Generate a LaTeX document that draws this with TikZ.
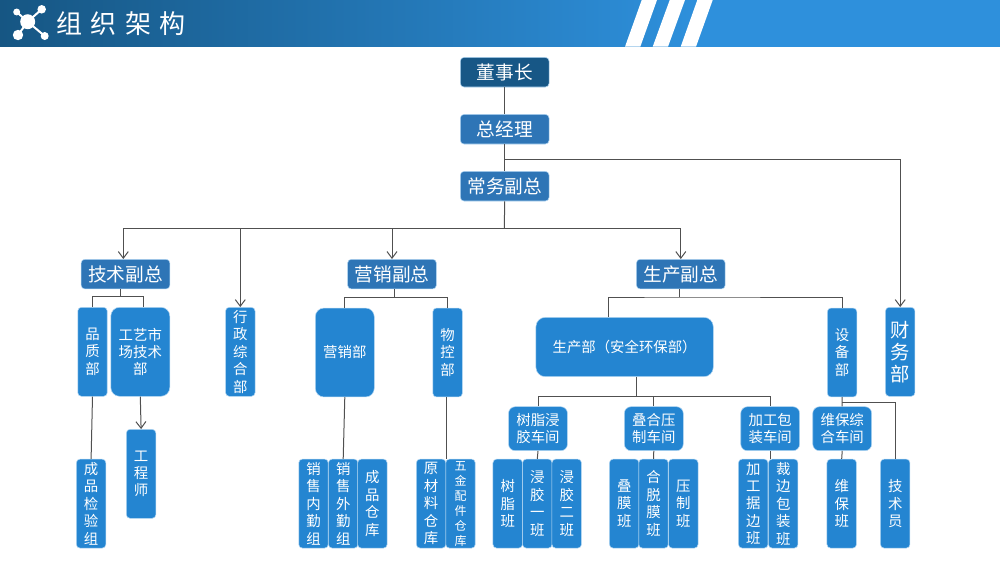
\documentclass[tikz,border=0pt]{standalone}
\usepackage{fontspec}
\usepackage{xcolor}
\setmainfont{Noto Sans CJK SC}
\usetikzlibrary{arrows.meta}
\definecolor{headdark}{RGB}{22,86,131}
\definecolor{headblue}{RGB}{46,144,220}
\definecolor{chairblue}{RGB}{23,87,134}
\definecolor{vpblue}{RGB}{46,117,182}
\definecolor{deptblue}{RGB}{36,133,209}
\definecolor{edgeblue}{RGB}{178,214,242}
\definecolor{linegray}{RGB}{80,80,80}
\tikzset{
    box/.style={rectangle, draw=edgeblue, line width=0.4pt, fill=deptblue, text=white, inner sep=0pt, align=center},
    vpbox/.style={box, fill=vpblue, minimum width=66.5pt, minimum height=22.2pt, rounded corners=2.7pt, font=\fontsize{14}{17}\selectfont},
    vbox/.style={box, minimum width=22.1pt, minimum height=66.7pt, rounded corners=2.7pt, font=\fontsize{10.8}{13.1}\selectfont},
    widebox/.style={box, minimum width=44.2pt, minimum height=66.7pt, rounded corners=6.5pt, font=\fontsize{10.8}{12.6}\selectfont},
    shopbox/.style={box, minimum width=44.2pt, minimum height=33pt, rounded corners=5pt, font=\fontsize{10.8}{12.6}\selectfont},
    conn/.style={linegray, line width=0.75pt},
    arrow/.style={conn, -{Straight Barb[length=5pt,width=7.5pt]}}
}

\begin{document}
\begin{tikzpicture}[x=0.75pt, y=-0.75pt]
\useasboundingbox (0,0) rectangle (1000,562);

% Header band
\shade[left color=headdark, right color=headblue, shading angle=90] (0,0) rectangle (700,46.7);
\fill[headblue] (699,0) rectangle (1000,46.7);
\fill[white] (641.7,0) -- (657,0) -- (640.3,46.7) -- (625,46.7) -- cycle;
\fill[white] (669.7,0) -- (685,0) -- (668,46.7) -- (652.7,46.7) -- cycle;
\fill[white] (697.3,0) -- (712.7,0) -- (696,46.7) -- (680.7,46.7) -- cycle;

% Header logo
\draw[white, line width=1.5pt] (16.7,12) -- (27.7,21.7) -- (41.7,9.3);
\draw[white, line width=1.5pt] (18,35) -- (27.7,21.7) -- (44.7,36);
\fill[white] (27.7,21.7) circle (5.6pt);
\fill[white] (16.7,12) circle (2.6pt);
\fill[white] (41.7,9.3) circle (3.2pt);
\fill[white] (18,35) circle (3.9pt);
\fill[white] (44.7,36) circle (3pt);
\node[text=white, inner sep=0pt, anchor=west, font=\fontsize{19.5}{22}\selectfont\addfontfeature{LetterSpace=33}] (title) at (56,23.5) {组织架构};

% Top of the chart
\node[vpbox, fill=chairblue] (chairman) at (504.7,72.2) {董事长};
\node[vpbox] (manager) at (504.7,129.2) {总经理};
\node[vpbox] (deputy) at (504.7,186.2) {常务副总};
\node[vpbox] (techvp) at (125.5,274.1) {技术副总};
\node[vpbox] (salesvp) at (392,274.1) {营销副总};
\node[vpbox] (prodvp) at (680.8,274.1) {生产副总};

% Departments
\node[vbox] (quality) at (92.5,351.8) {品\\质\\部};
\node[widebox] (craft) at (140.3,351.8) {工艺市\\场技术\\部};
\node[vbox] (admin) at (240.3,351.8) {行\\政\\综\\合\\部};
\node[widebox] (sales) at (344.8,352.5) {营销部};
\node[vbox] (material) at (447.6,352.5) {物\\控\\部};
\node[box, minimum width=133pt, minimum height=44.5pt, rounded corners=7pt, font=\fontsize{10.8}{12.6}\selectfont] (prod) at (624.6,347) {生产部（安全环保部）};
\node[vbox] (equip) at (842.1,352.5) {设\\备\\部};
\node[vbox, font=\fontsize{14.5}{16.5}\selectfont] (finance) at (900.2,351.8) {财\\务\\部};

% Workshops
\node[shopbox] (resinshop) at (538,428.7) {树脂浸\\胶车间};
\node[shopbox] (laminshop) at (653.8,428.7) {叠合压\\制车间};
\node[shopbox] (packshop) at (770.2,428.7) {加工包\\装车间};
\node[shopbox] (maintshop) at (842.2,428.7) {维保综\\合车间};

% Bottom row
\node[vbox] (engineer) at (141.1,473.8) {工\\程\\师};
\node[vbox] (inspect) at (91.1,503.6) {成\\品\\检\\验\\组};
\node[vbox] (salein) at (313.5,503.6) {销\\售\\内\\勤\\组};
\node[vbox] (saleout) at (343.2,503.6) {销\\售\\外\\勤\\组};
\node[vbox] (goods) at (372.4,503.6) {成\\品\\仓\\库};
\node[vbox] (rawstore) at (431.1,503.6) {原\\材\\料\\仓\\库};
\node[vbox, font=\fontsize{9}{11.25}\selectfont] (partstore) at (460.5,503.6) {五\\金\\配\\件\\仓\\库};
\node[vbox] (resin) at (507.7,503.6) {树\\脂\\班};
\node[vbox] (dipone) at (537.3,503.6) {浸\\胶\\一\\班};
\node[vbox] (diptwo) at (566.7,503.6) {浸\\胶\\二\\班};
\node[vbox] (film) at (624.2,503.6) {叠\\膜\\班};
\node[vbox] (dejoin) at (653.5,503.6) {合\\脱\\膜\\班};
\node[vbox] (press) at (683.3,503.6) {压\\制\\班};
\node[vbox] (edge) at (753.2,503.6) {加\\工\\据\\边\\班};
\node[vbox] (trim) at (783.2,503.6) {裁\\边\\包\\装\\班};
\node[vbox] (maint) at (841.7,503.6) {维\\保\\班};
\node[vbox] (technician) at (895.2,503.6) {技\\术\\员};

% Bus points
\coordinate (managerbus) at (504.3,159);
\coordinate (deputybus) at (504.3,228.5);
\coordinate (techbus) at (120.3,296.7);
\coordinate (techright) at (143.7,296.7);
\coordinate (salesbus) at (394.3,297.5);
\coordinate (prodvpbus) at (679.7,297);
\coordinate (prodleft) at (608.3,297);
\coordinate (prodbus) at (636.3,396);
\coordinate (materialdrop) at (446,397);
\coordinate (equipbus) at (842.3,402);

% Connectors from the top
\draw[conn] (chairman.south) -- (manager.north);
\draw[conn] (manager.south) -- (deputy.north);
\draw[arrow] (managerbus) -| (finance.north);
\draw[conn] (deputy.south) -- (deputybus);
\draw[arrow] (deputybus) -| ([xshift=-1.65pt]techvp.north);
\draw[arrow] (deputybus) -| (admin.north);
\draw[arrow] (deputybus) -| (salesvp.north);
\draw[arrow] (deputybus) -| (prodvp.north);

% Technical branch
\draw[conn] (techvp.south -| techbus) -- (techbus);
\draw[conn] (quality.north) |- (techright) -- (techright |- craft.north);
\draw[conn] (quality.south) -- (inspect.north);
\draw[arrow] (craft.south) -- (engineer.north);

% Sales branch
\draw[conn] (salesvp.south -| salesbus) -- (salesbus);
\draw[conn] (sales.north) |- (salesbus) -| (material.north);
\draw[conn] (sales.south) -- (saleout.north);
\draw[conn] (materialdrop) -- (materialdrop |- rawstore.north);

% Production branch
\draw[conn] (prodvp.south -| prodvpbus) -- (prodvpbus);
\draw[conn] (prodleft |- prod.north) -- (prodleft) -- (prodvpbus) -| (equip.north);
\draw[conn] (prod.south -| prodbus) -- (prodbus);
\draw[conn] (resinshop.north) |- (prodbus) -| (packshop.north);
\draw[conn] (laminshop.north) -- (laminshop.north |- prodbus);
\draw[conn] (resinshop.south) -- (dipone.north);
\draw[conn] (laminshop.south) -- (dejoin.north);
\draw[conn] (packshop.south) -- (packshop.south |- trim.north);
\draw[conn] (equip.south) -- (maintshop.north);
\draw[conn] (maintshop.south) -- (maint.north);
\draw[conn] (equipbus) -| (technician.north);

\end{tikzpicture}
\end{document}
